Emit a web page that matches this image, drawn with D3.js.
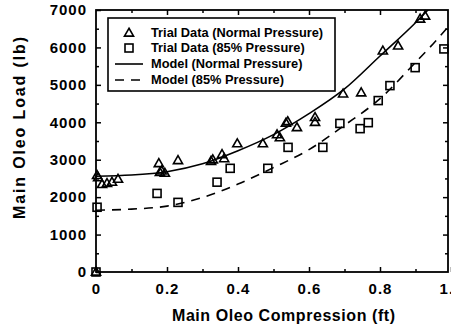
<!DOCTYPE html>
<html>
<head>
<meta charset="utf-8">
<script src="https://cdn.jsdelivr.net/npm/d3@7"></script>
<style>
  html, body { margin: 0; padding: 0; background: #fff; }
  svg { display: block; }
  text { font-family: "Liberation Sans", Arial, Helvetica, sans-serif; font-weight: bold; fill: #000; }
</style>
</head>
<body>
<svg id="chart" width="451" height="327"></svg>
<script>
// Trial measurements: oleo compression (ft) vs. main oleo load (lb)
const normalX = [0, 0.003, 0.006, 0.017, 0.031, 0.045, 0.062, 0.177, 0.180, 0.185, 0.194, 0.231, 0.324, 0.329, 0.355, 0.361, 0.398, 0.470, 0.510, 0.518, 0.535, 0.540, 0.566, 0.617, 0.617, 0.696, 0.747, 0.808, 0.851, 0.913, 0.927];
const normalY = [0, 2580, 2520, 2340, 2370, 2400, 2480, 2900, 2660, 2700, 2640, 2980, 2960, 3000, 3140, 3030, 3430, 3430, 3670, 3590, 3980, 4020, 3860, 4130, 4000, 4760, 4790, 5910, 6040, 6760, 6840];

const reducedX = [0, 0.003, 0.172, 0.231, 0.341, 0.378, 0.484, 0.541, 0.639, 0.687, 0.744, 0.767, 0.795, 0.828, 0.899, 0.980];
const reducedY = [0, 1730, 2100, 1860, 2400, 2770, 2770, 3330, 3330, 3970, 3830, 3990, 4580, 4980, 5460, 5960];

// Model curves, sampled along compression
const modelX = [0, 0.1, 0.2, 0.3, 0.4, 0.5, 0.6, 0.7, 0.8, 0.9, 0.95, 1.0];
const modelNormalY = [2560, 2590, 2680, 2890, 3240, 3670, 4230, 4890, 5770, 6660, 7150, 7650];
const modelReducedY = [1650, 1680, 1760, 1990, 2350, 2790, 3270, 3920, 4630, 5600, 6100, 6640];

const xTicks = [0, 0.2, 0.4, 0.6, 0.8, 1.0];
const yTicks = [0, 1000, 2000, 3000, 4000, 5000, 6000, 7000];

const legendLabels = ["Trial Data (Normal Pressure)", "Trial Data (85% Pressure)", "Model (Normal Pressure)", "Model (85% Pressure)"];

const svg = d3.select("#chart");
const plotLeft = 96, plotRight = 448, plotTop = 10, plotBottom = 272;

const x = d3.scaleLinear().domain([0, 1]).range([plotLeft, 451]);
const y = d3.scaleLinear().domain([0, 7000]).range([plotBottom, plotTop]);

svg.append("clipPath").attr("id", "clip")
  .append("rect").attr("x", plotLeft).attr("y", plotTop)
  .attr("width", plotRight - plotLeft).attr("height", plotBottom - plotTop);

// Minor ticks
const xMinor = [0.1, 0.3, 0.5, 0.7, 0.9];
const yMinor = [500, 1500, 2500, 3500, 4500, 5500, 6500];

function styleAxis(g) {
  g.select(".domain").remove();
  g.selectAll(".tick line").attr("stroke", "#000").attr("stroke-width", 1.5);
  g.selectAll("text").attr("font-size", 15).attr("font-family", "Liberation Sans, Arial, sans-serif")
    .attr("font-weight", "bold").attr("letter-spacing", "1px").attr("fill", "#000");
}

svg.append("g").attr("transform", `translate(0,${plotBottom})`)
  .call(d3.axisBottom(x).tickValues(xTicks).tickSize(-5).tickPadding(11).tickFormat(d => d === 0 ? "0" : d3.format(".1f")(d)))
  .call(styleAxis);
svg.append("g").attr("transform", `translate(0,${plotBottom})`)
  .call(d3.axisBottom(x).tickValues(xMinor).tickSize(-3).tickFormat(""))
  .call(styleAxis);
svg.append("g").attr("transform", `translate(0,${plotTop})`)
  .call(d3.axisTop(x).tickValues(xTicks.slice(1, 5)).tickSize(-5).tickFormat(""))
  .call(styleAxis);
svg.append("g").attr("transform", `translate(0,${plotTop})`)
  .call(d3.axisTop(x).tickValues(xMinor).tickSize(-3).tickFormat(""))
  .call(styleAxis);

svg.append("g").attr("transform", `translate(${plotLeft},0)`)
  .call(d3.axisLeft(y).tickValues(yTicks).tickSize(-5).tickPadding(9).tickFormat(d3.format("d")))
  .call(styleAxis);
svg.append("g").attr("transform", `translate(${plotLeft},0)`)
  .call(d3.axisLeft(y).tickValues(yMinor).tickSize(-3).tickFormat(""))
  .call(styleAxis);
svg.append("g").attr("transform", `translate(${plotRight},0)`)
  .call(d3.axisRight(y).tickValues(yTicks.slice(1, 7)).tickSize(-5).tickFormat(""))
  .call(styleAxis);
svg.append("g").attr("transform", `translate(${plotRight},0)`)
  .call(d3.axisRight(y).tickValues(yMinor).tickSize(-3).tickFormat(""))
  .call(styleAxis);

// Frame
svg.append("rect").attr("x", plotLeft).attr("y", plotTop)
  .attr("width", plotRight - plotLeft).attr("height", plotBottom - plotTop)
  .attr("fill", "none").attr("stroke", "#000").attr("stroke-width", 1.8);

// Model lines
const line = d3.line().curve(d3.curveMonotoneX);
const curves = svg.append("g").attr("clip-path", "url(#clip)");
curves.append("path")
  .attr("d", line(modelX.map((v, i) => [x(v), y(modelNormalY[i])])))
  .attr("fill", "none").attr("stroke", "#000").attr("stroke-width", 1.6);
curves.append("path")
  .attr("d", line(modelX.map((v, i) => [x(v), y(modelReducedY[i])])))
  .attr("fill", "none").attr("stroke", "#000").attr("stroke-width", 1.6).attr("stroke-dasharray", "9,7");

// Markers
const tri = d3.symbol().type(d3.symbolTriangle).size(36);
svg.append("g").selectAll("path")
  .data(normalX.map((v, i) => [v, normalY[i]]))
  .join("path")
  .attr("d", tri)
  .attr("transform", d => `translate(${x(d[0])},${y(d[1]) + 0.5})`)
  .attr("fill", "none").attr("stroke", "#000").attr("stroke-width", 1.6);

svg.append("g").selectAll("rect")
  .data(reducedX.map((v, i) => [v, reducedY[i]]))
  .join("rect")
  .attr("x", d => x(d[0]) - 4).attr("y", d => y(d[1]) - 4)
  .attr("width", 8).attr("height", 8)
  .attr("fill", "none").attr("stroke", "#000").attr("stroke-width", 1.6);

// Legend
const lg = svg.append("g");
lg.append("rect").attr("x", 108).attr("y", 18).attr("width", 227).attr("height", 73)
  .attr("fill", "#fff").attr("stroke", "#000").attr("stroke-width", 1.6);
const rowY = [33, 48, 64, 80];
lg.append("path").attr("d", tri).attr("transform", `translate(129,${rowY[0] + 0.5})`)
  .attr("fill", "none").attr("stroke", "#000").attr("stroke-width", 1.6);
lg.append("rect").attr("x", 125).attr("y", rowY[1] - 4).attr("width", 8).attr("height", 8)
  .attr("fill", "none").attr("stroke", "#000").attr("stroke-width", 1.6);
lg.append("line").attr("x1", 115).attr("x2", 143).attr("y1", rowY[2]).attr("y2", rowY[2])
  .attr("stroke", "#000").attr("stroke-width", 1.6);
lg.append("line").attr("x1", 115).attr("x2", 143).attr("y1", rowY[3]).attr("y2", rowY[3])
  .attr("stroke", "#000").attr("stroke-width", 1.6).attr("stroke-dasharray", "9,7");
lg.selectAll("text.lab").data(legendLabels).join("text")
  .attr("class", "lab")
  .attr("x", 151).attr("y", (d, i) => rowY[i]).attr("dy", "0.35em")
  .attr("font-size", 12.8).text(d => d);

// Axis titles
svg.append("text").attr("x", 283.5).attr("y", 315).attr("dy", "0.35em")
  .attr("text-anchor", "middle").attr("font-size", 16)
  .attr("textLength", 223).attr("lengthAdjust", "spacing")
  .text("Main Oleo Compression (ft)");
svg.append("text").attr("transform", "translate(19,128) rotate(-90)").attr("dy", "0.35em")
  .attr("text-anchor", "middle").attr("font-size", 16)
  .attr("textLength", 182).attr("lengthAdjust", "spacing")
  .text("Main Oleo Load (lb)");
</script>
</body>
</html>
